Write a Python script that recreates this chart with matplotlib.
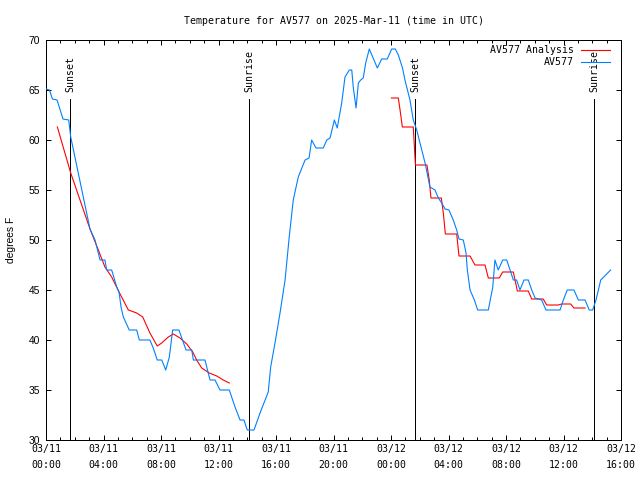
import matplotlib
matplotlib.use("Agg")
import matplotlib.pyplot as plt
import matplotlib.dates as mdates
import pandas as pd

# ---- data (hours since 2025-03-11 00:00 UTC, degrees F) ----
obs_hours = [0.03, 0.24, 0.45, 0.77, 1.18, 1.58, 1.72, 3.06, 3.41, 3.76, 4.10, 4.22, 4.57,
             4.92, 5.08, 5.22, 5.38, 5.79, 6.31, 6.49, 7.23, 7.46, 7.74, 8.05, 8.33, 8.58,
             8.81, 9.25, 9.74, 10.14, 10.25, 11.06, 11.41, 11.76, 12.10, 12.75, 13.15, 13.50,
             13.77, 14.00, 14.47, 14.89, 15.46, 15.63, 15.93, 16.28, 16.63, 16.92, 17.20,
             17.55, 18.02, 18.30, 18.48, 18.78, 19.29, 19.53, 19.76, 20.06, 20.26, 20.57,
             20.80, 21.10, 21.27, 21.38, 21.57, 21.73, 21.89, 22.07, 22.24, 22.49, 23.05,
             23.35, 23.74, 24.05, 24.30, 24.51, 24.80, 24.97, 25.32, 25.55, 25.79, 26.14,
             26.37, 26.71, 27.06, 27.29, 27.53, 27.76, 28.03, 28.33, 28.57, 28.73, 29.03,
             29.22, 29.31, 29.50, 29.80, 30.03, 30.77, 31.08, 31.23, 31.46, 31.77, 32.05,
             32.35, 32.51, 32.74, 32.97, 33.25, 33.55, 33.79, 34.02, 34.48, 34.78, 35.76,
             35.99, 36.26, 36.73, 37.03, 37.50, 37.79, 38.03, 38.26, 38.59, 39.28]
obs_temp = [65.1, 65.0, 64.1, 64.0, 62.1, 62.0, 60.3, 51.1, 50.0, 48.0, 48.0, 47.0, 47.0,
            45.3, 44.8, 43.3, 42.3, 41.0, 41.0, 40.0, 40.0, 39.2, 38.0, 38.0, 37.0, 38.3,
            41.0, 41.0, 39.0, 39.0, 38.0, 38.0, 36.0, 36.0, 35.0, 35.0, 33.3, 32.0,
            32.0, 31.0, 31.0, 32.7, 34.8, 37.3, 39.7, 42.7, 46.0, 50.3, 54.0,
            56.3, 58.0, 58.2, 60.0, 59.2, 59.2, 60.0, 60.2, 62.0, 61.2, 63.7,
            66.3, 67.0, 67.0, 65.2, 63.2, 65.7, 66.0, 66.2, 67.7, 69.1, 67.2,
            68.1, 68.1, 69.1, 69.1, 68.5, 67.2, 66.0, 64.0, 62.0, 61.0, 59.0,
            57.7, 55.3, 55.0, 54.2, 53.7, 53.1, 53.0, 52.0, 51.0, 50.1, 50.0,
            48.7, 47.0, 45.0, 44.0, 43.0, 43.0, 45.3, 48.0, 47.0, 48.0, 48.0,
            46.7, 46.0, 46.0, 45.0, 46.0, 46.0, 45.0, 44.2, 44.0, 43.0, 43.0,
            44.0, 45.0, 45.0, 44.0, 44.0, 43.0, 43.0, 44.0, 46.0, 47.0]

ana1_hours = [0.79, 1.72, 3.06, 3.64, 4.10, 4.57, 5.08, 5.73, 6.31, 6.73, 7.23, 7.74, 8.05,
              8.51, 8.86, 9.32, 9.79, 10.21, 10.48, 10.83, 11.36, 11.88, 12.33, 12.75]
ana1_temp = [61.3, 56.7, 51.1, 49.0, 47.3, 46.3, 44.8, 43.0, 42.7, 42.3, 40.7, 39.4, 39.7,
             40.3, 40.6, 40.2, 39.6, 38.8, 38.0, 37.2, 36.7, 36.4, 36.0, 35.7]

ana2_hours = [24.03, 24.51, 24.63, 24.79, 25.55, 25.62, 25.70, 26.50, 26.66, 26.78, 27.50,
              27.64, 27.78, 28.57, 28.73, 29.50, 29.84, 30.54, 30.77, 31.53, 31.77, 32.51,
              32.79, 33.55, 33.79, 34.59, 34.83, 35.64, 35.87, 36.50, 36.73, 37.50]
ana2_temp = [64.2, 64.2, 63.0, 61.3, 61.3, 59.5, 57.5, 57.5, 56.0, 54.2, 54.2,
             52.7, 50.6, 50.6, 48.4, 48.4, 47.5, 47.5, 46.2, 46.2, 46.8, 46.8,
             44.9, 44.9, 44.1, 44.1, 43.5, 43.5, 43.6, 43.6, 43.2, 43.2]

sun_hours = [1.69, 14.12, 25.67, 38.14]
sun_labels = ["Sunset", "Sunrise", "Sunset", "Sunrise"]

title = "Temperature for AV577 on 2025-Mar-11 (time in UTC)"
ylabel = "degrees F"
series_names = ["AV577 Analysis", "AV577"]

# ---- helpers ----
base = pd.Timestamp("2025-03-11 00:00")


def to_time(hours):
    return [(base + pd.Timedelta(hours=h)).to_pydatetime() for h in hours]


mono = "DejaVu Sans Mono"
sans = "Liberation Sans"
LW = 0.72
DLW = 0.8

fig = plt.figure(figsize=(6.4, 4.8), dpi=100)
L, R, T, B = 46 / 640, 621 / 640, 1 - 40 / 480, 1 - 440 / 480
ax = fig.add_axes([L, B, R - L, T - B])

blue = "#0080ff"
red = "#ff0000"

# sunrise / sunset markers
for h, lab in zip(sun_hours, sun_labels):
    t = to_time([h])[0]
    ax.plot([t, t], [30, 64.1], color="black", lw=LW, zorder=1, antialiased=False)
    ax.text(t, 64.85, lab, rotation=90, ha="center", va="bottom",
            fontsize=7.1, family=mono, zorder=4)

l1, = ax.plot(to_time(ana1_hours), ana1_temp, color=red, lw=DLW, zorder=2,
              label=series_names[0])
ax.plot(to_time(ana2_hours), ana2_temp, color=red, lw=DLW, zorder=2)
l2, = ax.plot(to_time(obs_hours), obs_temp, color=blue, lw=DLW, zorder=3,
              label=series_names[1])

ax.set_xlim(base.to_pydatetime(), (base + pd.Timedelta(hours=40)).to_pydatetime())
ax.set_ylim(30, 70)
ax.set_yticks(range(30, 71, 5))

ax.xaxis.set_major_locator(mdates.HourLocator(byhour=range(0, 24, 4)))
ax.xaxis.set_minor_locator(mdates.HourLocator())
ax.xaxis.set_major_formatter(mdates.DateFormatter("%m/%d\n%H:%M"))

ax.tick_params(axis="both", which="both", direction="in", top=True, right=True,
               width=LW, color="black")
ax.tick_params(axis="both", which="major", length=3.6)
ax.tick_params(axis="x", which="minor", length=2.0)
ax.tick_params(axis="x", which="major", pad=3.2, labelsize=7.1)
ax.tick_params(axis="y", which="major", pad=4.5, labelsize=7.4)

for lab in ax.get_xticklabels():
    lab.set_family(mono)
for lab in ax.get_yticklabels():
    lab.set_family(sans)

for s in ax.spines.values():
    s.set_linewidth(LW)
    s.set_color("black")
    s.set_antialiased(False)

ax.set_ylabel(ylabel, fontsize=7.4, family=sans, labelpad=9)
fig.text((L + R) / 2, 1 - 21 / 480, title, ha="center", va="center",
         fontsize=7.1, family=mono)

leg = ax.legend(handles=[l1, l2], loc="upper right", frameon=False, markerfirst=False,
                bbox_to_anchor=(610 / 640, 1 - 45 / 480), bbox_transform=fig.transFigure,
                borderaxespad=0, borderpad=0, handlelength=2.95, handletextpad=0.7,
                labelspacing=0.2, prop={"family": mono, "size": 7.1})

fig.canvas.draw()
for tk in ax.xaxis.get_major_ticks():
    tk.label1.set_linespacing(1.75)
    tk.label1.set_family(mono)

fig.savefig("out.png", dpi=100)
